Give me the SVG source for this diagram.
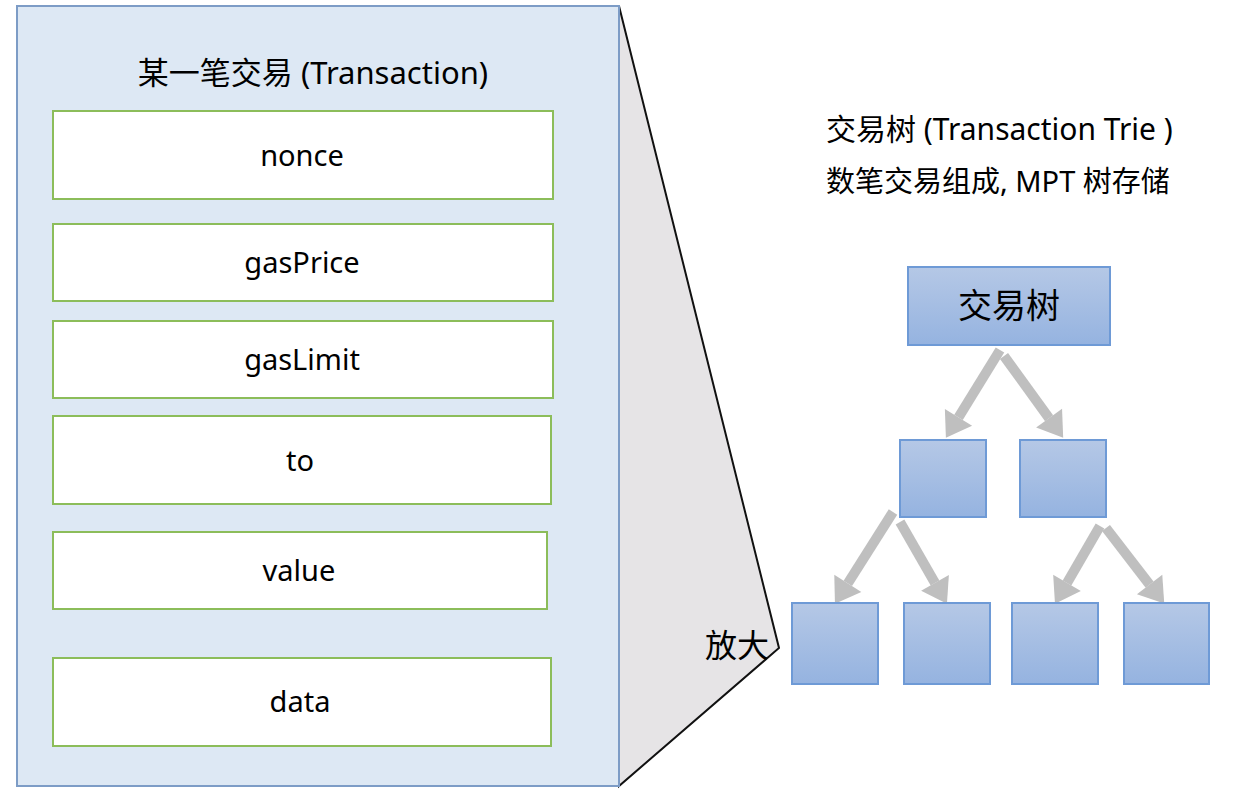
<svg xmlns="http://www.w3.org/2000/svg" width="1244" height="800" viewBox="0 0 1244 800">
<defs>
<linearGradient id="blue" x1="0" y1="0" x2="0" y2="1">
<stop offset="0" stop-color="#b5c8e6"/>
<stop offset="1" stop-color="#95b3e0"/>
</linearGradient>
<marker id="ah" markerUnits="userSpaceOnUse" orient="auto" markerWidth="26" markerHeight="32" refX="0" refY="16" overflow="visible">
<path d="M0,0 L24,16 L0,32 z" fill="#bfbfbf"/>
</marker>
<style>
.txt{font-family:"Noto Sans","Noto Sans CJK SC",sans-serif;fill:#000;}
.field{fill:#fff;stroke:#8cbd5a;stroke-width:2;}
.node{fill:url(#blue);stroke:#6e9ad6;stroke-width:2;}
.arr{stroke:#bfbfbf;stroke-width:10;fill:none;marker-end:url(#ah);}
</style>
</defs>
<rect width="1244" height="800" fill="#fff"/>
<g id="zoom">
<polygon points="619,6 779,648 619,786" fill="#e6e4e6" stroke="#111" stroke-width="2" stroke-linejoin="miter"/>
<text class="txt" x="705" y="657" font-size="32">放大</text>
</g>
<g id="transaction">
<rect x="17" y="6" width="602" height="780" fill="#dde8f4" stroke="#7d9cc6" stroke-width="2"/>
<text class="txt" x="313" y="84" font-size="31" text-anchor="middle">某一笔交易 (Transaction)</text>
</g>
<g id="nonce"><rect class="field" x="53" y="111" width="500" height="88"/><text class="txt" x="302" y="166" font-size="29" text-anchor="middle">nonce</text></g>
<g id="gasPrice"><rect class="field" x="53" y="224" width="500" height="77"/><text class="txt" x="302" y="273" font-size="29" text-anchor="middle">gasPrice</text></g>
<g id="gasLimit"><rect class="field" x="53" y="321" width="500" height="77"/><text class="txt" x="302" y="370" font-size="29" text-anchor="middle">gasLimit</text></g>
<g id="to"><rect class="field" x="53" y="416" width="498" height="88"/><text class="txt" x="300" y="471" font-size="29" text-anchor="middle">to</text></g>
<g id="value"><rect class="field" x="53" y="532" width="494" height="77"/><text class="txt" x="299" y="581" font-size="29" text-anchor="middle">value</text></g>
<g id="data"><rect class="field" x="53" y="658" width="498" height="88"/><text class="txt" x="300" y="712" font-size="29" text-anchor="middle">data</text></g>
<g id="trie-title">
<text class="txt" x="826" y="140" font-size="30">交易树 (Transaction Trie )</text>
<text class="txt" x="826" y="192" font-size="29">数笔交易组成, MPT 树存储</text>
</g>
<g id="connectors">
<line class="arr" x1="1000" y1="350" x2="958.5" y2="417.3"/>
<line class="arr" x1="1004" y1="356" x2="1049.1" y2="418.2"/>
<line class="arr" x1="893" y1="512" x2="847.8" y2="583.4"/>
<line class="arr" x1="900" y1="522" x2="935" y2="582.9"/>
<line class="arr" x1="1100" y1="526" x2="1067" y2="582.9"/>
<line class="arr" x1="1106" y1="528" x2="1149.6" y2="584.6"/>
</g>
<g id="root"><rect class="node" x="908" y="267" width="202" height="78"/><text class="txt" x="1009" y="318" font-size="34" text-anchor="middle">交易树</text></g>
<g id="n1"><rect class="node" x="900" y="440" width="86" height="77"/></g>
<g id="n2"><rect class="node" x="1020" y="440" width="86" height="77"/></g>
<g id="n3"><rect class="node" x="792" y="603" width="86" height="81"/></g>
<g id="n4"><rect class="node" x="904" y="603" width="86" height="81"/></g>
<g id="n5"><rect class="node" x="1012" y="603" width="86" height="81"/></g>
<g id="n6"><rect class="node" x="1124" y="603" width="85" height="81"/></g>
</svg>
